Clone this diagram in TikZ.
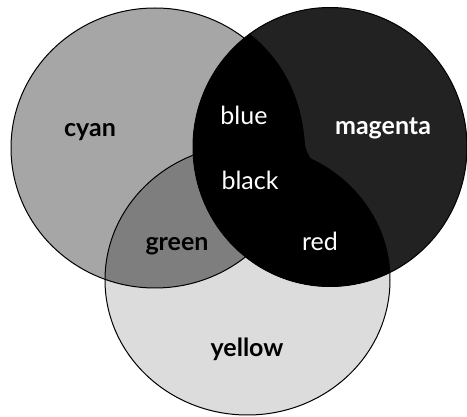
\documentclass[tikz,border=0pt]{standalone}
\usepackage{fontspec}
\setmainfont{Lato}
\definecolor{cyangray}{HTML}{A6A6A6}
\definecolor{yellowgray}{HTML}{DCDCDC}
\definecolor{greengray}{HTML}{7E7E7E}
\definecolor{magentagray}{HTML}{222222}
\begin{document}
\begin{tikzpicture}[x=1pt,y=-1pt,
  outline/.style={draw=black,line width=1pt},
  darklabel/.style={text=black,font=\fontsize{25}{28}\selectfont\bfseries,anchor=base,inner sep=0pt},
  lightlabel/.style={text=white,font=\fontsize{25}{28}\selectfont,anchor=base,inner sep=0pt},
  lightbold/.style={text=white,font=\fontsize{25}{28}\selectfont\bfseries,anchor=base,inner sep=0pt}]
\useasboundingbox (0,0) rectangle (467,417);
\fill[white] (0,0) rectangle (467,417);
\coordinate (C) at (155,148);
\coordinate (M) at (330,147);
\coordinate (Y) at (247.5,280);
\def\cyanpath{(C) ellipse [x radius=144, y radius=140]}
\def\magpath{(M) ellipse [x radius=137, y radius=139.5]}
\def\yelpath{(Y) ellipse [x radius=142.5, y radius=135]}
% base fills
\fill[yellowgray] \yelpath;
\fill[cyangray] \cyanpath;
\fill[magentagray] \magpath;
% green = cyan and yellow
\begin{scope}
  \clip \cyanpath;
  \fill[greengray] \yelpath;
\end{scope}
% overlaps with magenta are black
\begin{scope}
  \clip \magpath;
  \fill[black] \cyanpath;
  \fill[black] \yelpath;
  \fill[black] (245,30) .. controls (285,60) and (302,100) .. (305,145)
    .. controls (308,172) and (375,205) .. (393,290) -- (180,300) -- (180,0) -- cycle;
\end{scope}
% outlines
\draw[outline] \yelpath;
\draw[outline] \cyanpath;
\draw[outline] \magpath;
% labels
\node[darklabel] (cyan) at (90,137) {cyan};
\node[lightlabel] (blue) at (244,125) {blue};
\node[lightbold] (magenta) at (383,135) {magenta};
\node[lightlabel] (black) at (250,190) {black};
\node[darklabel] (green) at (177,251) {green};
\node[lightlabel] (red) at (320,251) {red};
\node[darklabel] (yellow) at (247,357) {yellow};
\end{tikzpicture}
\end{document}
